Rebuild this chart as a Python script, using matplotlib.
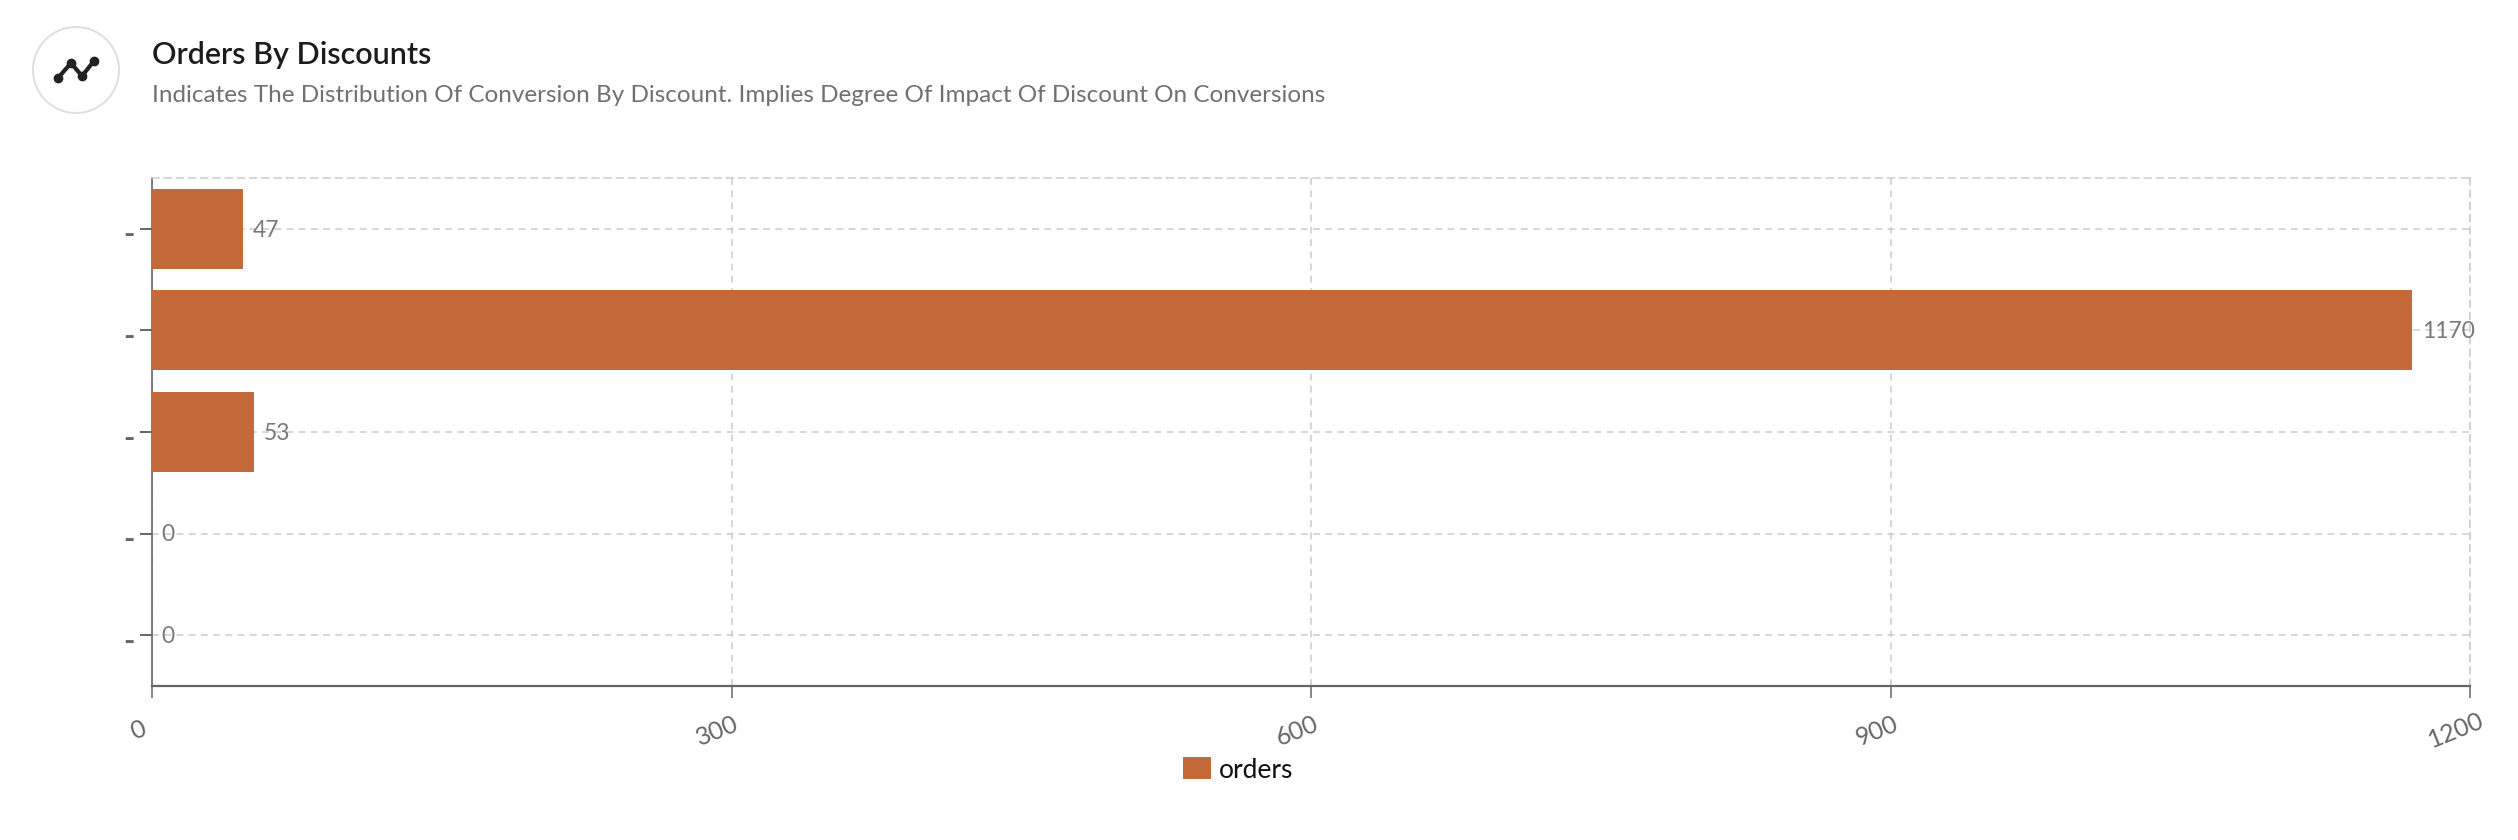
"""Orders by discounts: horizontal bar chart with a card style header."""

import matplotlib
matplotlib.use("Agg")
import matplotlib.pyplot as plt
from matplotlib.patches import Circle
from matplotlib.transforms import ScaledTranslation

W, H = 2518, 840

categories = ["-", "-", "-", "-", "-"]
orders = [47, 1170, 53, 0, 0]
x_ticks = [0, 300, 600, 900, 1200]
series_name = "orders"
title = "Orders By Discounts"
subtitle = "Indicates The Distribution Of Conversion By Discount. Implies Degree Of Impact Of Discount On Conversions"

BAR_COLOR = "#C46A3A"
GRID_COLOR = "#CCCCCC"
AXIS_COLOR = "#666666"
DASH = (0, (4.5, 3.5))

plt.rcParams["font.family"] = ["Lato", "DejaVu Sans"]

fig = plt.figure(figsize=(W / 100, H / 100), dpi=100, facecolor="white")

# plot area in pixels: left 152, right 2470, top 178, bottom 686
ax = fig.add_axes([152 / W, 1 - 686 / H, (2470 - 152) / W, (686 - 178) / H])
y_pos = list(range(len(orders)))
bars = ax.barh(y_pos, orders, height=0.787, color=BAR_COLOR, label=series_name, zorder=3)

ax.set_xlim(0, 1200)
ax.set_ylim(4.5, -0.5)
ax.set_xticks(x_ticks)
ax.set_xticklabels([])
ax.set_yticks(y_pos)
ax.set_yticklabels(categories, fontsize=22, fontweight="bold", color=AXIS_COLOR)
ax.tick_params(axis="y", length=8.6, width=1.4, color=AXIS_COLOR, pad=4)
ax.tick_params(axis="x", length=8.6, width=1.1, color=AXIS_COLOR)

# the dash labels sit a little lower than their ticks
for lab in ax.get_yticklabels():
    lab.set_transform(lab.get_transform() + ScaledTranslation(0, -3 / 72, fig.dpi_scale_trans))

ax.grid(True, color=GRID_COLOR, linestyle=DASH, linewidth=1.1, zorder=0)
ax.set_axisbelow(True)

for side in ["top", "right"]:
    ax.spines[side].set_color(GRID_COLOR)
    ax.spines[side].set_linestyle(DASH)
    ax.spines[side].set_linewidth(1.1)
ax.spines["left"].set_color(AXIS_COLOR)
ax.spines["left"].set_linewidth(1.2)
ax.spines["bottom"].set_color(AXIS_COLOR)
ax.spines["bottom"].set_linewidth(1.6)

# value labels at the end of each bar
for y, v in zip(y_pos, orders):
    ax.annotate(str(v), xy=(v, y), xytext=(7, -1), textcoords="offset points",
                ha="left", va="center", fontsize=16.5, color="#7A7A7A", zorder=4)

# rotated tick labels, centred a bit to the left of each tick
for v in x_ticks:
    ax.annotate(str(v), xy=(v, 4.5), xytext=(-10, -32), textcoords="offset points",
                ha="center", va="center", rotation=22, fontsize=18, color=AXIS_COLOR,
                annotation_clip=False)

handles, labels = ax.get_legend_handles_labels()
fig.legend(handles, labels, loc="center", bbox_to_anchor=(1238 / W, 1 - 770 / H),
           frameon=False, fontsize=19, labelcolor="#111111", handlelength=1.05,
           handleheight=0.9, handletextpad=0.3, borderpad=0)

# header drawn in pixel coordinates
head = fig.add_axes([0, 0, 1, 1], facecolor="none")
head.set_xlim(0, W)
head.set_ylim(H, 0)
head.axis("off")
head.add_patch(Circle((76, 70), 43, facecolor="white", edgecolor="#DEDEDE", linewidth=1.4))
icon_x = [58, 71, 82, 94]
icon_y = [78, 63, 76, 61]
head.plot(icon_x, icon_y, color="#222222", linewidth=3, marker="o", markersize=6,
          solid_capstyle="round")
head.text(152, 55, title, fontsize=22, color="#1C1C1C", va="center", ha="left", fontweight="semibold")
head.text(152, 96, subtitle, fontsize=17.5, color="#707070", va="center", ha="left")

fig.savefig("out.png", dpi=100)
